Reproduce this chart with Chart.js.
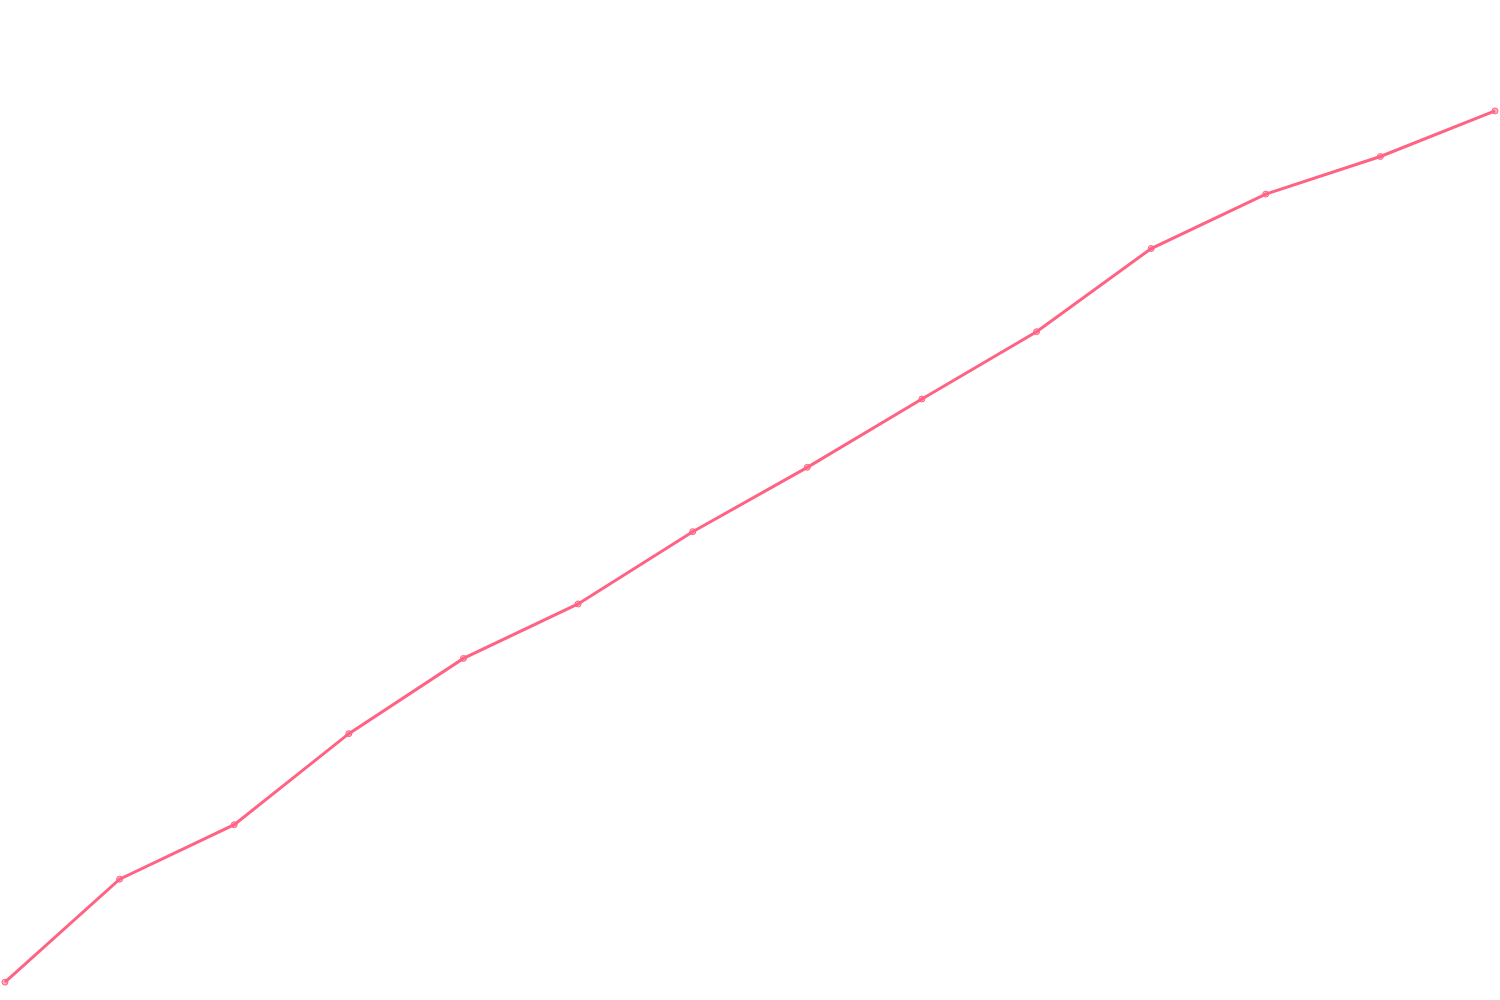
<!DOCTYPE html>
<html>
<head>
<meta charset="utf-8">
<script src="https://cdn.jsdelivr.net/npm/chart.js@4"></script>
<style>
html,body{margin:0;padding:0;background:#fff;}
#wrap{width:1500px;height:1000px;}
</style>
</head>
<body>
<div id="wrap"><canvas id="c"></canvas></div>
<script>
const labels = ['1','2','3','4','5','6','7','8','9','10','11','12','13','14'];
const values = [1.3, 11.7, 17.2, 26.4, 34.0, 39.5, 46.8, 53.3, 60.2, 67.0, 75.4, 80.9, 84.7, 89.3];
const yMin = 0;
const yMax = 100;

new Chart(document.getElementById('c'), {
  type: 'line',
  data: {
    labels: labels,
    datasets: [{
      data: values,
      borderColor: 'rgb(255, 99, 132)',
      backgroundColor: 'rgba(255, 99, 132, 0.5)',
      borderWidth: 3,
      pointRadius: 3,
      pointBorderWidth: 1,
      tension: 0,
      fill: false
    }]
  },
  options: {
    responsive: true,
    maintainAspectRatio: false,
    animation: false,
    plugins: { legend: { display: false }, title: { display: false }, tooltip: { enabled: false } },
    scales: {
      x: { display: false },
      y: { display: false, min: yMin, max: yMax }
    }
  }
});
</script>
</body>
</html>
